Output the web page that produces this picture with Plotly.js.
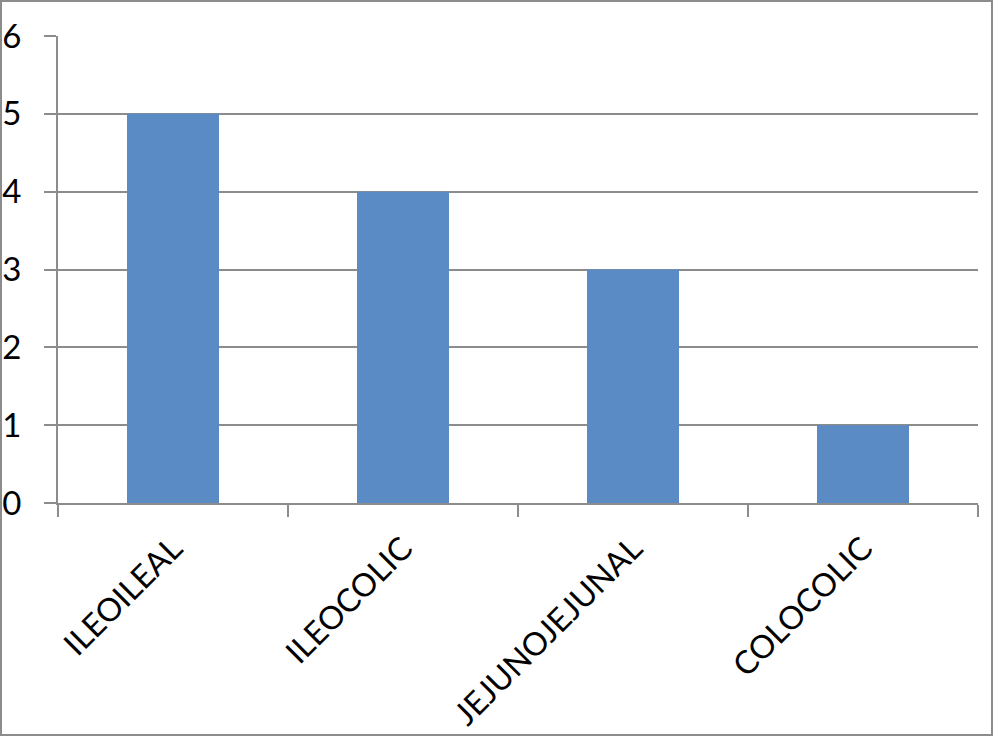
<!DOCTYPE html>
<html>
<head>
<meta charset="utf-8">
<script src="https://cdn.plot.ly/plotly-3.0.1.min.js"></script>
<style>
  html, body { margin: 0; padding: 0; background: #fff; }
  #wrap { position: relative; width: 993px; height: 736px; }
  #chart { width: 993px; height: 736px; }
  #frame { position: absolute; left: 0; top: 0; width: 993px; height: 736px; box-sizing: border-box; border: 2px solid #8c8c8c; pointer-events: none; }
</style>
</head>
<body>
<div id="wrap">
  <div id="chart"></div>
  <div id="frame"></div>
</div>
<script>
const categories = ["ILEOILEAL", "ILEOCOLIC", "JEJUNOJEJUNAL", "COLOCOLIC"];
const counts = [5, 4, 3, 1];
const yTicks = [0, 1, 2, 3, 4, 5, 6];

const trace = {
  type: "bar",
  x: categories,
  y: counts,
  marker: { color: "#5B8BC5" },
  hoverinfo: "x+y"
};

const layout = {
  width: 993,
  height: 736,
  margin: { l: 58, r: 15, t: 36, b: 233 },
  paper_bgcolor: "#ffffff",
  plot_bgcolor: "#ffffff",
  showlegend: false,
  bargap: 0.6,
  font: { family: "Lato, 'Open Sans', sans-serif", color: "#000" },
  xaxis: {
    type: "category",
    tickson: "boundaries",
    ticks: "outside",
    ticklen: 12,
    tickwidth: 2,
    tickcolor: "#8c8c8c",
    tickangle: -45,
    tickfont: { size: 32, family: "Lato, 'Open Sans', sans-serif", color: "#000" },
    ticklabelstandoff: 12,
    showgrid: false,
    showline: true,
    linecolor: "#8c8c8c",
    linewidth: 2,
    zeroline: false
  },
  yaxis: {
    range: [0, 6],
    tickvals: yTicks,
    ticktext: yTicks.map(String),
    ticks: "outside",
    ticklen: 12,
    tickwidth: 2,
    tickcolor: "#8c8c8c",
    ticklabelstandoff: 16,
    tickfont: { size: 33, family: "Lato, 'Open Sans', sans-serif", color: "#000" },
    showgrid: true,
    gridcolor: "#8c8c8c",
    gridwidth: 2,
    showline: true,
    linecolor: "#8c8c8c",
    linewidth: 2,
    zeroline: false
  }
};

Plotly.newPlot("chart", [trace], layout, { displayModeBar: false, staticPlot: true });
</script>
</body>
</html>
